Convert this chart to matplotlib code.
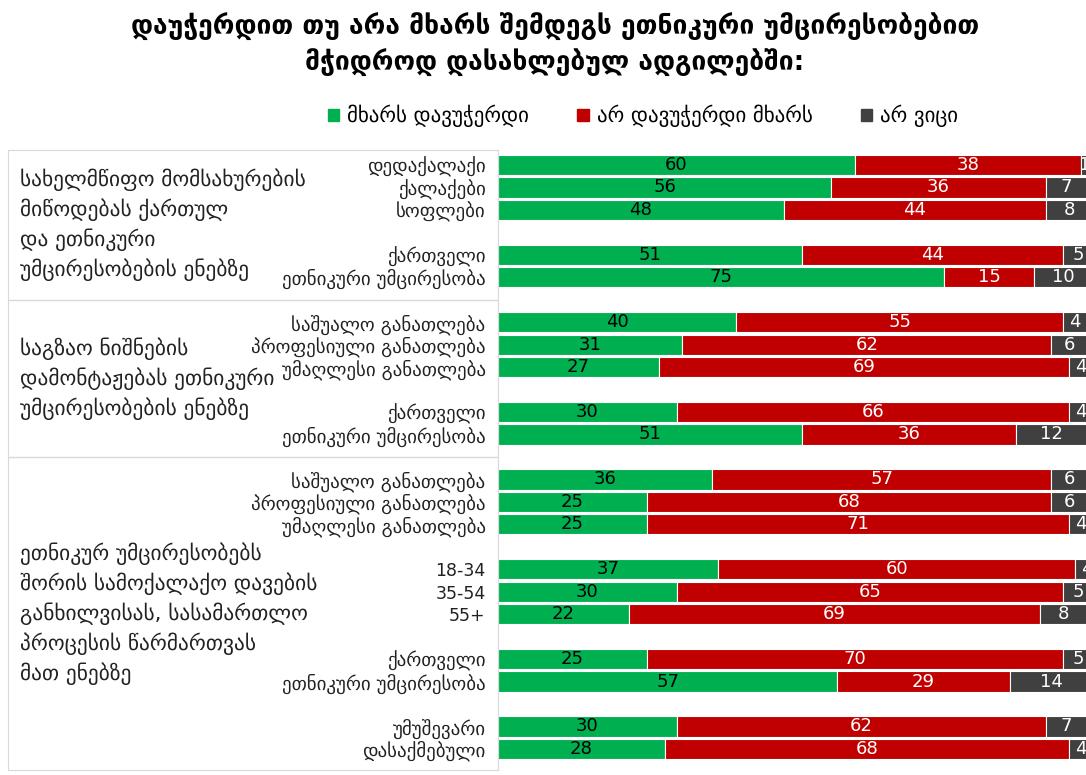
import numpy as np
import matplotlib.pyplot as plt
from matplotlib.patches import Patch

plt.rcParams['font.family'] = ['DejaVu Sans']

title = ("დაუჭერდით თუ არა მხარს შემდეგს ეთნიკური უმცირესობებით\n"
         "მჭიდროდ დასახლებულ ადგილებში:")
series_names = ["მხარს დავუჭერდი", "არ დავუჭერდი მხარს", "არ ვიცი"]

group_titles = [
    "სახელმწიფო მომსახურების\nმიწოდებას ქართულ\nდა ეთნიკური\nუმცირესობების ენებზე",
    "საგზაო ნიშნების\nდამონტაჟებას ეთნიკური\nუმცირესობების ენებზე",
    "ეთნიკურ უმცირესობებს\nშორის სამოქალაქო დავების\nგანხილვისას, სასამართლო\n"
    "პროცესის წარმართვას\nმათ ენებზე",
]
# number of row blocks (split by blank rows) in each group, and rows per block
group_blocks = [2, 2, 4]
block_sizes = [3, 2, 3, 2, 3, 3, 2, 2]

row_labels = [
    "დედაქალაქი", "ქალაქები", "სოფლები",
    "ქართველი", "ეთნიკური უმცირესობა",
    "საშუალო განათლება", "პროფესიული განათლება", "უმაღლესი განათლება",
    "ქართველი", "ეთნიკური უმცირესობა",
    "საშუალო განათლება", "პროფესიული განათლება", "უმაღლესი განათლება",
    "18-34", "35-54", "55+",
    "ქართველი", "ეთნიკური უმცირესობა",
    "უმუშევარი", "დასაქმებული",
]
support = [60, 56, 48, 51, 75, 40, 31, 27, 30, 51, 36, 25, 25, 37, 30, 22, 25, 57, 30, 28]
oppose = [38, 36, 44, 44, 15, 55, 62, 69, 66, 36, 57, 68, 71, 60, 65, 69, 70, 29, 62, 68]
dont_know = [1, 7, 8, 5, 10, 4, 6, 4, 4, 12, 6, 6, 4, 4, 5, 8, 5, 14, 7, 4]

colors = ["#00B050", "#C00000", "#404040"]
text_colors = ["black", "white", "white"]
line_col = "#d9d9d9"

# row positions: one blank row after each block
ypos = []
slot = 0
for n in block_sizes:
    ypos.extend(range(slot, slot + n))
    slot += n + 1
ypos = np.array(ypos)

# group separators
seps = []
b = 0
for g in group_blocks[:-1]:
    b += g
    last = ypos[sum(block_sizes[:b]) - 1]
    seps.append(last + 1)

W, H = 1086, 775
fig = plt.figure(figsize=(W / 100, H / 100), dpi=100)
y_top, y_bot = -0.668, 26.94
ax = fig.add_axes([498 / W, 1 - 770 / H, (W - 498) / W, 620 / H])
axl = fig.add_axes([8 / W, 1 - 770 / H, 490 / W, 620 / H], sharey=ax)
axl.set_zorder(-1)

data = np.array([support, oppose, dont_know], dtype=float)
left = np.zeros(len(row_labels))
for i in range(3):
    ax.barh(ypos, data[i], left=left, height=0.9, color=colors[i],
            edgecolor="white", linewidth=0.8, label=series_names[i])
    for y, l, v in zip(ypos, left, data[i]):
        ax.text(l + v / 2, y, f"{v:.0f}", ha="center", va="center",
                fontsize=13, color=text_colors[i])
    left += data[i]

ax.set_xlim(0, 98.8)
ax.set_ylim(y_bot, y_top)
ax.set_yticks(ypos, row_labels, color="#222222")
for lbl in ax.get_yticklabels():
    # numeric age labels are set a bit smaller than the georgian ones
    lbl.set_fontsize(12.5 if lbl.get_text()[0].isdigit() else 13.6)
ax.tick_params(axis="y", length=0, pad=9)
ax.set_xticks([])
for s in ["top", "right", "bottom"]:
    ax.spines[s].set_visible(False)
ax.spines["left"].set_color(line_col)

axl.set_xlim(0, 1)
axl.set_xticks([])
axl.tick_params(axis="y", left=False, labelleft=False)
for s in axl.spines.values():
    s.set_color(line_col)
for s in seps:
    axl.axhline(s, color=line_col, linewidth=1)

bounds = [y_top] + seps + [y_bot]
for k, t in enumerate(group_titles):
    yc = (bounds[k] + bounds[k + 1]) / 2
    axl.text(12 / 490, yc, t, ha="left", va="center", fontsize=15.4,
             color="#222222", linespacing=1.42)

fig.text(555 / W, 1 - 45 / H, title, ha="center", va="center", fontsize=19,
         fontweight="bold", linespacing=1.35)

handles = [Patch(color=c) for c in colors]
fig.legend(handles, series_names, loc="center", bbox_to_anchor=(643 / W, 1 - 116 / H),
           ncol=3, frameon=False, fontsize=15, handlelength=0.55, handleheight=0.55,
           handletextpad=0.4, columnspacing=2.3)

fig.savefig("out.png", dpi=100)
